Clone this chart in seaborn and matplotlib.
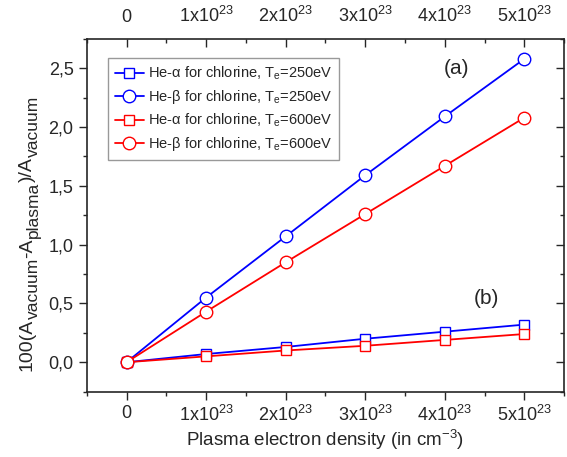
import numpy as np
import pandas as pd
import matplotlib
matplotlib.use("Agg")
import matplotlib.pyplot as plt
from matplotlib.ticker import FuncFormatter, MultipleLocator
import seaborn as sns

# data
density = [0, 1e23, 2e23, 3e23, 4e23, 5e23]
he_alpha_250 = [0.0, 0.07, 0.13, 0.20, 0.26, 0.32]
he_beta_250 = [0.0, 0.55, 1.07, 1.59, 2.09, 2.58]
he_alpha_600 = [0.0, 0.05, 0.10, 0.14, 0.19, 0.24]
he_beta_600 = [0.0, 0.43, 0.85, 1.26, 1.67, 2.08]

labels = [
    r"He-α for chlorine, T$_\mathrm{e}$=250eV",
    r"He-β for chlorine, T$_\mathrm{e}$=250eV",
    r"He-α for chlorine, T$_\mathrm{e}$=600eV",
    r"He-β for chlorine, T$_\mathrm{e}$=600eV",
]
series = [he_alpha_250, he_beta_250, he_alpha_600, he_beta_600]
colors = ["#0000ff", "#0000ff", "#ff0000", "#ff0000"]
markers = ["s", "o", "s", "o"]
msizes = [7.5, 9, 7.5, 9]

# y label pieces: (text, is_subscript)
ylabel_parts = [("100(A", False), ("vacuum", True), ("-A", False),
                ("plasma", True), (")/A", False), ("vacuum", True)]

sns.set_style("ticks")
plt.rcParams["font.family"] = ["Liberation Sans", "DejaVu Sans"]
plt.rcParams["mathtext.fontset"] = "custom"
plt.rcParams["mathtext.rm"] = "Liberation Sans"
plt.rcParams["mathtext.it"] = "Liberation Sans:italic"
plt.rcParams["mathtext.sf"] = "Liberation Sans"

fig = plt.figure(figsize=(5.67, 4.57), dpi=100)
ax = fig.add_axes([0.153, 0.143, 0.842, 0.772])

for vals, lab, c, m, ms in zip(series, labels, colors, markers, msizes):
    df = pd.DataFrame({"n": density, "v": vals})
    sns.lineplot(data=df, x="n", y="v", color=c, marker=m, markersize=ms,
                 markerfacecolor="white", markeredgecolor=c, markeredgewidth=1.0,
                 linewidth=1.3, label=lab, ax=ax)

ax.set_xlim(-0.5e23, 5.5e23)
ax.set_ylim(-0.25, 2.75)


def xfmt(v, pos):
    if abs(v) < 1e20:
        return "0"
    return r"%dx10$^{23}$" % round(v / 1e23)


def yfmt(v, pos):
    return ("%.1f" % v).replace(".", ",")


ax.xaxis.set_major_locator(MultipleLocator(1e23))
ax.xaxis.set_minor_locator(MultipleLocator(0.5e23))
ax.yaxis.set_major_locator(MultipleLocator(0.5))
ax.yaxis.set_minor_locator(MultipleLocator(0.25))
ax.xaxis.set_major_formatter(FuncFormatter(xfmt))
ax.yaxis.set_major_formatter(FuncFormatter(yfmt))

ax.tick_params(axis="both", which="major", length=6, width=1, labelsize=13)
ax.tick_params(axis="both", which="minor", length=3, width=1)
ax.tick_params(axis="x", which="both", top=True, labeltop=True)
ax.tick_params(axis="y", which="both", right=True)
# top and right ticks point inward, bottom and left outward
for t in ax.xaxis.get_major_ticks() + ax.xaxis.get_minor_ticks():
    t.tick2line.set_marker(3)
for t in ax.yaxis.get_major_ticks() + ax.yaxis.get_minor_ticks():
    t.tick2line.set_marker(0)

for s in ax.spines.values():
    s.set_linewidth(1.2)

ax.set_xlabel(r"Plasma electron density (in cm$^{-3}$)", fontsize=13.5, labelpad=2)
ax.set_ylabel("")

# y label built from pieces so the subscripts stay almost full size
prev = None
for txt, sub in ylabel_parts:
    kw = dict(rotation=90, rotation_mode="anchor", ha="left", va="baseline",
              fontsize=12.5 if sub else 14, textcoords="offset points",
              xytext=(4.5 if sub else 0, 0))
    if prev is None:
        prev = ax.annotate(txt, xy=(-0.115, 0.058), xycoords="axes fraction", **kw)
    else:
        prev = ax.annotate(txt, xy=(-0.115, 1.0), xycoords=("axes fraction", prev), **kw)

ax.text(0.774, 0.915, "(a)", transform=ax.transAxes, fontsize=15, ha="center", va="center")
ax.text(0.838, 0.265, "(b)", transform=ax.transAxes, fontsize=15, ha="center", va="center")

leg = ax.legend(loc="upper left", bbox_to_anchor=(0.045, 0.945), fontsize=10.5,
                frameon=True, fancybox=False, edgecolor="#808080",
                handlelength=2.0, handletextpad=0.3, borderpad=0.45,
                labelspacing=0.4, borderaxespad=0)
leg.get_frame().set_linewidth(1.0)

fig.savefig("out.png", dpi=100)
